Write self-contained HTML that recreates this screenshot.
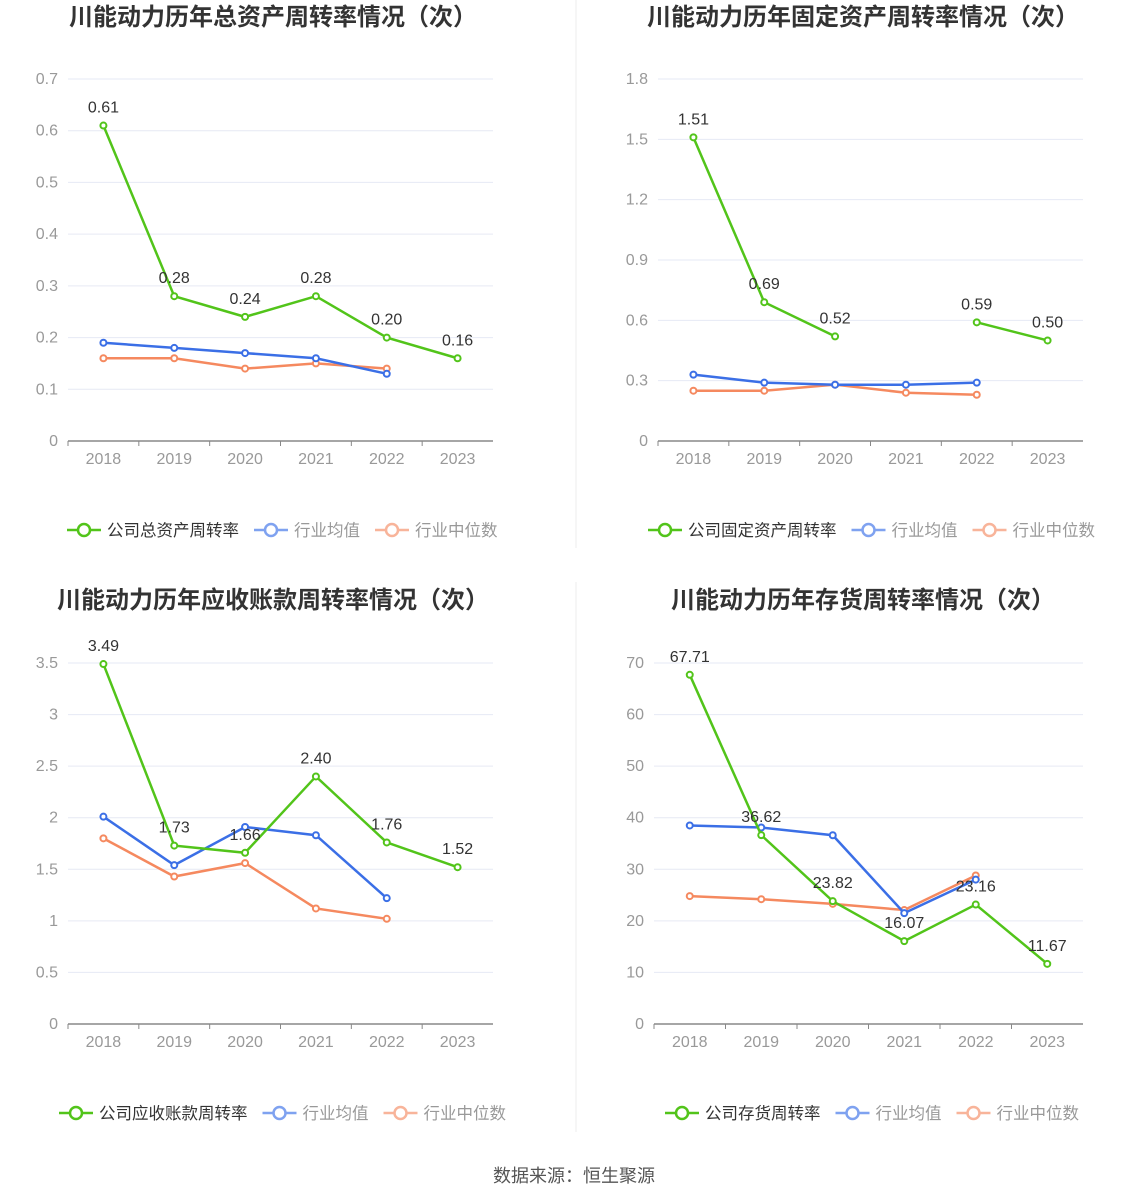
<!DOCTYPE html>
<html><head><meta charset="utf-8"><style>
body{margin:0;background:#fff;width:1148px;height:1202px;overflow:hidden;font-family:"Liberation Sans","Noto Sans CJK SC",sans-serif}
svg{position:absolute;left:0;top:0}
</style></head><body>
<svg id="s" width="1148" height="1202"></svg>
<script>
const years=["2018","2019","2020","2021","2022","2023"];
const c1Company=[0.61,0.28,0.24,0.28,0.20,0.16];
const c1Avg=[0.19,0.18,0.17,0.16,0.13,null];
const c1Med=[0.16,0.16,0.14,0.15,0.14,null];
const c1Ticks=[0,0.1,0.2,0.3,0.4,0.5,0.6,0.7];
const c2Company=[1.51,0.69,0.52,null,0.59,0.50];
const c2Avg=[0.33,0.29,0.28,0.28,0.29,null];
const c2Med=[0.25,0.25,0.28,0.24,0.23,null];
const c2Ticks=[0,0.3,0.6,0.9,1.2,1.5,1.8];
const c3Company=[3.49,1.73,1.66,2.40,1.76,1.52];
const c3Avg=[2.01,1.54,1.91,1.83,1.22,null];
const c3Med=[1.80,1.43,1.56,1.12,1.02,null];
const c3Ticks=[0,0.5,1,1.5,2,2.5,3,3.5];
const c4Company=[67.71,36.62,23.82,16.07,23.16,11.67];
const c4Avg=[38.5,38.1,36.6,21.5,28.0,null];
const c4Med=[24.8,24.2,23.3,22.1,28.8,null];
const c4Ticks=[0,10,20,30,40,50,60,70];

const NS="http://www.w3.org/2000/svg";
const svg=document.getElementById('s');
function el(t,a,p){const e=document.createElementNS(NS,t);for(const k in a)e.setAttribute(k,a[k]);(p||svg).appendChild(e);return e;}
function txt(x,y,s,a,p){const e=el('text',Object.assign({x:x,y:y},a),p);e.textContent=s;return e;}
const G="#52c41a",B="#3b6fe6",O="#f5895f";

function chart(cfg){
  const g=el('g',{});
  
  
  const t=txt(cfg.tx,cfg.ty,cfg.title,{'text-anchor':'middle','font-size':24,'font-weight':'bold',fill:'#333'},g);
  
  const max=cfg.ticks[cfg.ticks.length-1];
  const ys=v=>cfg.y0-(v/max)*(cfg.y0-cfg.y1);
  const step=(cfg.x1-cfg.x0)/6;
  const xs=i=>cfg.x0+step*(i+0.5);
  cfg.ticks.forEach(v=>{
    if(v>0){const l=el('line',{x1:cfg.x0,x2:cfg.x1,y1:ys(v),y2:ys(v),stroke:'#e6e9f4','stroke-width':1},g);}
    const tl=txt(cfg.x0-10,ys(v)+5,String(v),{'text-anchor':'end','font-size':16,fill:'#999'},g);
    
  });
  const ax=el('line',{x1:cfg.x0,x2:cfg.x1,y1:cfg.y0,y2:cfg.y0,stroke:'#888','stroke-width':1.5},g);
  
  years.forEach((y,i)=>{
    el('line',{x1:cfg.x0+step*i,x2:cfg.x0+step*i,y1:cfg.y0,y2:cfg.y0+5,stroke:'#888'},g);
    const xl=txt(xs(i),cfg.y0+23,y,{'text-anchor':'middle','font-size':16,fill:'#999'},g);
    
  });
  function series(data,col,nm,labels){
    let d='';let pen=false;
    data.forEach((v,i)=>{if(v==null){pen=false;return;}d+=(pen?'L':'M')+xs(i)+' '+ys(v)+' ';pen=true;});
    const p=el('path',{d:d,fill:'none',stroke:col,'stroke-width':2.5},g);
    
    data.forEach((v,i)=>{if(v==null)return;
      const c=el('circle',{cx:xs(i),cy:ys(v),r:3,fill:'#fff',stroke:col,'stroke-width':2},g);
      
      if(labels){const l=txt(xs(i),ys(v)-13,v.toFixed(2),{'text-anchor':'middle','font-size':16,fill:'#333'},g);
        }
    });
  }
  series(cfg.med,O,'median',false);
  series(cfg.avg,B,'average',false);
  series(cfg.comp,G,'company',true);
  const items=[[cfg.leg,G,'#333'],['行业均值','#7fa2f0','#999'],['行业中位数','#f8b49a','#999']];
  let x=cfg.lx;
  items.forEach((it,k)=>{
    const lg=el('g',{},g);
    
    el('line',{x1:x,x2:x+34,y1:cfg.ly,y2:cfg.ly,stroke:it[1],'stroke-width':2.5},lg);
    el('circle',{cx:x+17,cy:cfg.ly,r:6,fill:'#fff',stroke:it[1],'stroke-width':2.5},lg);
    const w=it[0].length*16.5;
    txt(x+40,cfg.ly+6,it[0],{'font-size':16.5,fill:it[2]},lg);
    x+=40+w+15;
  });
}
chart({name:'total-asset-turnover-chart',title:'川能动力历年总资产周转率情况（次）',tx:273,ty:25,x0:68,x1:493,y0:441,y1:79,ticks:c1Ticks,comp:c1Company,avg:c1Avg,med:c1Med,leg:'公司总资产周转率',lx:67,ly:530});
chart({name:'fixed-asset-turnover-chart',title:'川能动力历年固定资产周转率情况（次）',tx:863,ty:25,x0:658,x1:1083,y0:441,y1:79,ticks:c2Ticks,comp:c2Company,avg:c2Avg,med:c2Med,leg:'公司固定资产周转率',lx:648,ly:530});
chart({name:'receivables-turnover-chart',title:'川能动力历年应收账款周转率情况（次）',tx:273,ty:608,x0:68,x1:493,y0:1024,y1:663,ticks:c3Ticks,comp:c3Company,avg:c3Avg,med:c3Med,leg:'公司应收账款周转率',lx:59,ly:1113});
chart({name:'inventory-turnover-chart',title:'川能动力历年存货周转率情况（次）',tx:863,ty:608,x0:654,x1:1083,y0:1024,y1:663,ticks:c4Ticks,comp:c4Company,avg:c4Avg,med:c4Med,leg:'公司存货周转率',lx:665,ly:1113});
const dv=el('line',{x1:576,x2:576,y1:0,y2:548,stroke:'#eee'});

const dv2=el('line',{x1:576,x2:576,y1:582,y2:1132,stroke:'#eee'});

const src=txt(574,1182,'数据来源：恒生聚源',{'text-anchor':'middle','font-size':18,fill:'#555'});

</script>
</body></html>
